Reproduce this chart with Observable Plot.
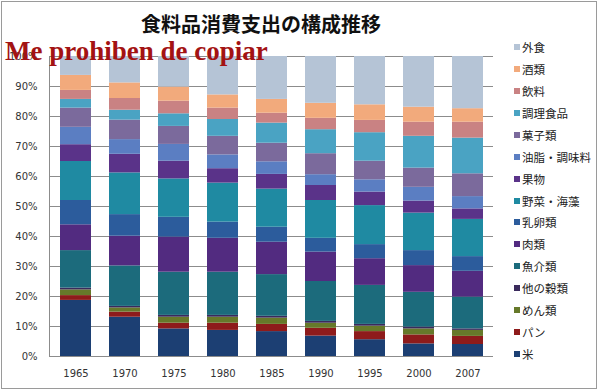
<!DOCTYPE html>
<html>
<head>
<meta charset="utf-8">
<script src="https://cdn.jsdelivr.net/npm/d3@7"></script>
<script src="https://cdn.jsdelivr.net/npm/@observablehq/plot@0.6"></script>
<style>
  html, body { margin: 0; padding: 0; background: #fff; }
  #wrap { position: relative; width: 600px; height: 390px; overflow: hidden; background: #fff; }
  #frame { position: absolute; left: 1px; top: 1px; width: 594px; height: 386px; border: 1px solid #9a9a9a; box-sizing: content-box; pointer-events: none; }
  #title { position: absolute; left: 0; width: 522px; top: 10px; text-align: center; font-family: "Noto Sans CJK JP", sans-serif; font-weight: 700; font-size: 20px; color: #111; line-height: 28px; }
  #watermark { position: absolute; left: 5px; top: 36px; font-family: "Liberation Serif", "DejaVu Serif", serif; font-weight: 700; font-size: 27px; color: #a31313; line-height: 30px; white-space: nowrap; }
  .leg { position: absolute; left: 514px; height: 16px; display: flex; align-items: center; font-family: "Noto Sans CJK JP", sans-serif; font-size: 11.5px; color: #222; white-space: nowrap; }
  .leg span.sw { display: inline-block; width: 6px; height: 6px; margin-right: 2px; }
  #chart { position: absolute; left: 0; top: 0; }
</style>
</head>
<body>
<div id="wrap">
  <div id="chart"></div>
  <div id="title"></div>
  <div id="legend"></div>
  <div id="watermark"></div>
  <div id="frame"></div>
</div>
<script>
const titleText = "食料品消費支出の構成推移";
const watermarkText = "Me prohiben de copiar";
const years = ["1965", "1970", "1975", "1980", "1985", "1990", "1995", "2000", "2007"];
const categories = ["米", "パン", "めん類", "他の穀類", "魚介類", "肉類", "乳卵類", "野菜・海藻", "果物", "油脂・調味料", "菓子類", "調理食品", "飲料", "酒類", "外食"];
const colors = ["#1c3f73", "#8e1b1b", "#66792a", "#3a2a5c", "#1c6b7c", "#522b80", "#2c5c9c", "#1f8aa2", "#5a3389", "#5b7ec2", "#7b6a9c", "#4aa3c3", "#c98283", "#f2aa7c", "#b5c4d6"];
const yTicks = [0, 0.1, 0.2, 0.3, 0.4, 0.5, 0.6, 0.7, 0.8, 0.9, 1];

// percent shares per year
const rice      = [18.7, 13.1, 9.2, 8.7, 8.3, 6.8, 5.6, 4.2, 4.0];
const bread     = [1.6, 1.7, 1.9, 2.4, 2.4, 2.6, 2.7, 3.0, 2.7];
const noodles   = [1.9, 1.4, 2.0, 2.0, 2.1, 1.7, 1.8, 2.0, 2.0];
const otherGrain= [0.6, 0.5, 0.6, 0.6, 0.6, 0.6, 0.6, 0.6, 0.5];
const seafood   = [12.5, 13.5, 14.4, 14.4, 13.9, 13.3, 13.0, 11.6, 10.6];
const meat      = [8.6, 9.9, 11.7, 11.3, 10.8, 9.8, 8.9, 8.9, 8.6];
const dairyEgg  = [8.1, 7.2, 6.6, 5.4, 5.0, 4.6, 4.7, 5.0, 4.9];
const vegetable = [13.0, 13.9, 12.8, 13.0, 12.7, 12.6, 13.0, 12.5, 12.4];
const fruit     = [5.6, 6.2, 5.9, 4.8, 4.9, 5.0, 4.5, 4.0, 3.5];
const oilSeason = [5.8, 4.9, 5.6, 4.6, 4.2, 3.6, 4.1, 4.6, 4.1];
const sweets    = [6.4, 6.5, 6.0, 6.2, 6.2, 7.0, 6.2, 6.4, 7.6];
const prepared  = [2.9, 3.3, 4.2, 5.6, 6.7, 8.0, 9.5, 10.6, 11.9];
const drinks    = [3.0, 3.9, 4.2, 3.8, 3.3, 3.8, 4.1, 4.7, 5.3];
const alcohol   = [5.0, 5.2, 4.7, 4.4, 4.6, 5.0, 5.2, 5.0, 4.5];
const eatingOut = [6.3, 8.8, 10.2, 12.8, 14.3, 15.6, 16.1, 16.9, 17.4];

const series = [rice, bread, noodles, otherGrain, seafood, meat, dairyEgg, vegetable, fruit, oilSeason, sweets, prepared, drinks, alcohol, eatingOut];

const rows = [];
categories.forEach((cat, ci) => {
  years.forEach((year, yi) => {
    rows.push({ year, cat, value: series[ci][yi] / 100 });
  });
});

document.getElementById("title").textContent = titleText;
document.getElementById("watermark").textContent = watermarkText;

// Legend (top: 外食 ... bottom: 米)
const legend = document.getElementById("legend");
const legendOrder = categories.slice().reverse();
legendOrder.forEach((cat, i) => {
  const ci = categories.indexOf(cat);
  const div = document.createElement("div");
  div.className = "leg";
  div.style.top = (39 + i * 21.93) + "px";
  const sw = document.createElement("span");
  sw.className = "sw";
  sw.style.background = colors[ci];
  div.appendChild(sw);
  const t = document.createElement("span");
  t.textContent = cat;
  div.appendChild(t);
  legend.appendChild(div);
});

const leftLine = (index, scales, values, dimensions) => {
  const { marginLeft, marginTop, height, marginBottom } = dimensions;
  const line = document.createElementNS("http://www.w3.org/2000/svg", "line");
  line.setAttribute("x1", marginLeft + 0.5);
  line.setAttribute("x2", marginLeft + 0.5);
  line.setAttribute("y1", marginTop);
  line.setAttribute("y2", height - marginBottom);
  line.setAttribute("stroke", "#8c8c8c");
  return line;
};

const chart = Plot.plot({
  width: 600,
  height: 390,
  marginTop: 56,
  marginBottom: 34,
  marginLeft: 49,
  marginRight: 107,
  style: { fontFamily: "DejaVu Sans, sans-serif", fontSize: "10px", background: "transparent", overflow: "visible" },
  x: { domain: years, paddingInner: 0.37, paddingOuter: 0.185, label: null, axis: null },
  y: { domain: [0, 1], label: null, axis: null },
  color: { domain: categories, range: colors },
  marks: [
    Plot.gridY(yTicks, { stroke: "#8c8c8c", strokeOpacity: 1 }),
    Plot.barY(rows, { x: "year", y: "value", fill: "cat", order: categories }),
    Plot.ruleY([0], { stroke: "#8c8c8c" }),
    leftLine,
    Plot.axisY(yTicks, { tickSize: 0, tickPadding: 12, tickFormat: d3.format(".0%"), fill: "#333", label: null }),
    Plot.axisX({ tickSize: 0, tickPadding: 13, fill: "#333", label: null })
  ]
});
document.getElementById("chart").appendChild(chart);
</script>
</body>
</html>
